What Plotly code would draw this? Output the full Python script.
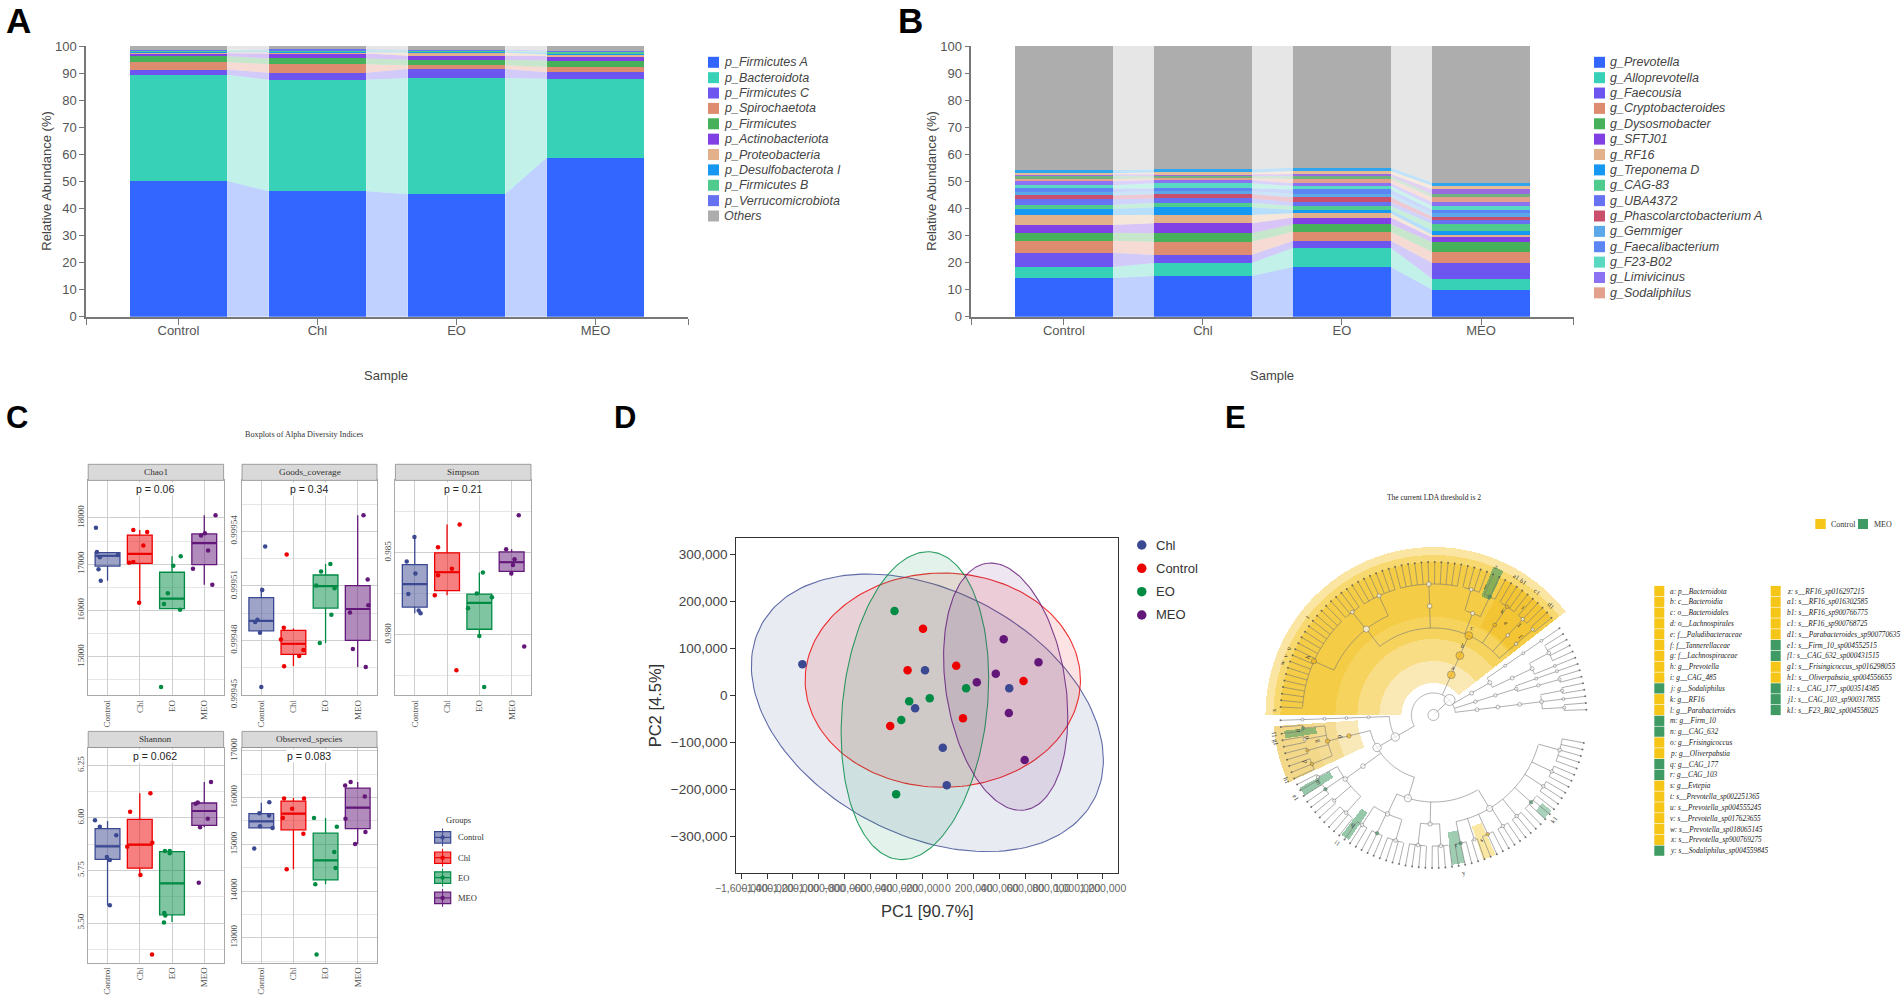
import numpy as np
import plotly.graph_objects as go

W, H = 1902, 1000
SANS, SERIF = "Liberation Sans", "Liberation Serif"

# ---------- Panel A / B data ----------
GROUPS = ["Control", "Chl", "EO", "MEO"]
PHYLA = ["p_Firmicutes A", "p_Bacteroidota", "p_Firmicutes C", "p_Spirochaetota", "p_Firmicutes",
         "p_Actinobacteriota", "p_Proteobacteria", "p_Desulfobacterota I", "p_Firmicutes B",
         "p_Verrucomicrobiota", "Others"]
firmicutes_a = [50.1, 46.3, 45.2, 58.8]
bacteroidota = [39.3, 41.2, 43.0, 29.1]
firmicutes_c = [1.9, 2.6, 3.3, 2.4]
spirochaetota = [2.7, 3.2, 1.4, 1.9]
firmicutes = [2.2, 2.1, 2.0, 2.4]
actinobacteriota = [1.1, 1.8, 1.5, 1.7]
proteobacteria = [0.4, 0.5, 1.2, 0.6]
desulfobacterota = [0.3, 0.4, 0.4, 0.5]
firmicutes_b = [0.4, 0.3, 0.3, 0.5]
verrucomicrobiota = [0.2, 0.4, 0.3, 0.4]
others_a = [1.4, 1.2, 1.4, 1.7]
PHYLA_VALUES = [firmicutes_a, bacteroidota, firmicutes_c, spirochaetota, firmicutes, actinobacteriota,
                proteobacteria, desulfobacterota, firmicutes_b, verrucomicrobiota, others_a]

GENERA = ["g_Prevotella", "g_Alloprevotella", "g_Faecousia", "g_Cryptobacteroides", "g_Dysosmobacter",
          "g_SFTJ01", "g_RF16", "g_Treponema D", "g_CAG-83", "g_UBA4372", "g_Phascolarctobacterium A",
          "g_Gemmiger", "g_Faecalibacterium", "g_F23-B02", "g_Limivicinus", "g_Sodaliphilus"]
prevotella = [14.3, 15.0, 18.4, 10.0]
alloprevotella = [4.1, 4.8, 7.1, 3.9]
faecousia = [5.2, 3.0, 2.6, 5.9]
cryptobacteroides = [4.5, 4.9, 3.3, 4.1]
dysosmobacter = [2.9, 3.1, 2.8, 3.6]
sftj01 = [2.9, 3.7, 2.4, 1.8]
rf16 = [3.7, 3.1, 1.6, 0.9]
treponema_d = [2.2, 2.8, 1.2, 1.6]
cag83 = [1.5, 1.7, 1.5, 2.4]
uba4372 = [2.1, 1.6, 1.4, 1.5]
phascolarctobacterium = [1.4, 1.5, 1.8, 1.2]
gemmiger = [1.3, 1.1, 1.4, 1.3]
faecalibacterium = [1.3, 1.1, 1.5, 1.2]
f23_b02 = [1.2, 1.9, 1.3, 1.5]
limivicinus = [1.4, 1.2, 1.0, 1.4]
sodaliphilus = [0.8, 0.6, 1.6, 1.8]
unlisted_1 = [1.3, 0.9, 1.1, 1.1]
unlisted_2 = [0.5, 0.6, 0.7, 1.8]
unlisted_3 = [0.4, 0.7, 1.1, 1.4]
unlisted_4 = [1.1, 1.1, 1.2, 1.1]
others_b = [45.9, 45.6, 45.0, 50.5]
GENERA_VALUES = [prevotella, alloprevotella, faecousia, cryptobacteroides, dysosmobacter, sftj01, rf16,
                 treponema_d, cag83, uba4372, phascolarctobacterium, gemmiger, faecalibacterium, f23_b02,
                 limivicinus, sodaliphilus, unlisted_1, unlisted_2, unlisted_3, unlisted_4, others_b]

COL_A = ["#3366FF", "#36D1B7", "#6D56F0", "#DE8C70", "#47B05B", "#8040E3", "#E3B08C", "#1597F2",
         "#4FCB8E", "#6672F2", "#ADADAD"]
COL_B = COL_A[:10] + ["#C94F6D", "#5BA8E8", "#5B85F2", "#5AD9C2", "#8B72F2", "#E3A08C",
                      "#6FB27F", "#9A6AE0", "#E6BC96", "#2FA5EE", "#ADADAD"]

# ---------- Panel C data ----------
C_COL = ["#3B4992", "#EE0000", "#008B45", "#631879"]
# each index: [q1, median, q3, low whisker, high whisker] per group, then points and jitter
chao1_box = [[16959, 17182, 17248, 16645, 17248], [17017, 17223, 17628, 16165, 17736],
             [16041, 16256, 16826, 16041, 17174], [16992, 17455, 17653, 16554, 18058]]
chao1_pts = [[17785, 17265, 17149, 17198, 16893, 16645], [17736, 17694, 17405, 17033, 17050, 16165],
             [14347, 16141, 16372, 16017, 16967, 17174], [18058, 17669, 17620, 17298, 16901, 16554]]
chao1_jit = [[-.36, -.33, -.24, .32, -.28, -.21], [-.2, .23, .11, -.33, -.2, -.02],
             [-.34, -.25, -.13, .25, .04, .27], [.35, .02, -.1, .12, -.35, .25]]
goods_box = [[.9994853, .9994908, .9995036, .9994841, .9995091], [.9994723, .9994782, .9994856, .9994660, .9994866],
             [.9994978, .9995099, .9995160, .9994786, .9995221], [.9994801, .9994973, .9995102, .9994654, .9995488]]
goods_pts = [[.9995316, .9995078, .9994914, .9994902, .9994843, .9994544],
             [.9995272, .9994870, .9994805, .9994748, .9994715, .9994658],
             [.9995221, .9995179, .9995102, .9995087, .9994942, .9994786],
             [.9995488, .9995135, .9994994, .9994954, .9994753, .9994654]]
goods_jit = [[.12, .03, -.12, -.19, -.04, 0], [-.21, -.3, -.39, .31, .18, -.29],
             [.15, -.14, -.29, .28, .18, -.18], [.18, .31, .33, -.24, -.15, .25]]
simpson_box = [[.98168, .98308, .98428, .98131, .98596], [.98269, .98381, .985, .98241, .98673],
               [.98033, .98194, .98248, .98002, .98379], [.98386, .98442, .98505, .98362, .98521]]
simpson_pts = [[.98446, .98596, .98374, .98248, .98147, .98131], [.98673, .98533, .98402, .98362, .98241, .97783],
               [.98379, .98252, .98229, .98161, .97991, .9768], [.98729, .98521, .9846, .98425, .98374, .97928]]
simpson_jit = [[-.25, -.01, .02, -.2, .12, .18], [.39, -.28, .15, -.28, -.38, .29],
               [.11, -.08, .39, -.35, 0, .15], [.22, -.17, .09, .04, -.01, .39]]
shannon_box = [[5.803, 5.865, 5.949, 5.585, 5.985], [5.761, 5.873, 5.993, 5.730, 6.117],
               [5.539, 5.689, 5.840, 5.505, 5.843], [5.965, 6.033, 6.071, 5.956, 6.171]]
shannon_pts = [[5.989, 5.958, 5.918, 5.814, 5.800, 5.585], [6.117, 6.029, 5.863, 5.882, 5.729, 5.350],
               [5.843, 5.843, 5.832, 5.548, 5.536, 5.503], [6.171, 6.073, 6.067, 5.996, 5.956, 5.692]]
shannon_jit = [[-.39, -.24, .27, -.02, .07, .07], [.33, -.3, -.39, .39, .02, .38],
               [-.22, -.07, -.07, -.24, -.21, -.25], [.21, -.2, -.27, .11, -.13, -.17]]
observed_box = [[15352, 15492, 15656, 15352, 15893], [15311, 15656, 15926, 14467, 15992],
                [14238, 14656, 15238, 14147, 15566], [15336, 15787, 16205, 15008, 16336]]
observed_pts = [[15902, 15664, 15615, 15385, 15352, 14910], [15984, 15984, 15762, 15566, 15229, 14467],
                [15566, 15377, 14836, 14492, 14147, 12639], [16336, 16262, 16025, 15549, 15262, 15008]]
observed_jit = [[.25, -.06, .24, -.04, .35, -.22], [-.29, .33, -.04, -.33, .31, -.21],
                [-.36, .35, .27, .31, -.32, -.28], [-.22, -.39, .22, -.38, .24, -.08]]

# ---------- Panel D data ----------
D_NAMES = ["Chl", "Control", "EO", "MEO"]
D_COL = ["#3B4992", "#EE0000", "#008B45", "#631879"]
pc1 = [[-1127200, -177650, -254200, -39800, -9190, 474800],
       [-192970, -312430, 64320, 585030, 116400, -447200],
       [-413500, -300200, -140900, 140900, -361400, -401250],
       [431900, 701400, 370600, 223600, 471700, 594200]]
pc2 = [[66660, 53900, -26950, -110640, -190780, 15600],
       [142550, 53900, 63830, 31200, -48230, -64540],
       [180140, -12060, -5670, 15600, -51770, -209900],
       [119850, 70920, 46810, 28370, -36880, -136900]]
# ellipse centre x, centre y, half width, half height, correlation
ELLIPSES = [[-159300, -36500, 1363000, 295400, -.34], [-39800, 32980, 1065900, 228000, 0.0],
            [-255800, -21280, 571250, 327650, .177], [447200, 19150, 480900, 263100, -.24]]

# ---------- Panel E data ----------
GOLD, GREEN = "#F5C518", "#3F9B63"
LEFT_LABELS = ["a: p__Bacteroidota", "b: c__Bacteroidia", "c: o__Bacteroidales", "d: o__Lachnospirales",
               "e: f__Paludibacteraceae", "f: f__Tannerellaceae", "g: f__Lachnospiraceae", "h: g__Prevotella",
               "i: g__CAG_485", "j: g__Sodaliphilus", "k: g__RF16", "l: g__Parabacteroides", "m: g__Firm_10",
               "n: g__CAG_632", "o: g__Frisingicoccus", "p: g__Oliverpabstia", "q: g__CAG_177", "r: g__CAG_103",
               "s: g__Evtepia", "t: s__Prevotella_sp002251365", "u: s__Prevotella_sp004555245",
               "v: s__Prevotella_sp017623655", "w: s__Prevotella_sp018065145", "x: s__Prevotella_sp900769275",
               "y: s__Sodaliphilus_sp004559845"]
LEFT_GROUP = "CCCCCCCCCMCCMMCCMMCCCCCCM"
RIGHT_LABELS = ["z: s__RF16_sp016297215", "a1: s__RF16_sp016302585", "b1: s__RF16_sp900766775",
                "c1: s__RF16_sp900768725", "d1: s__Parabacteroides_sp900770635", "e1: s__Firm_10_sp004552515",
                "f1: s__CAG_632_sp000431515", "g1: s__Frisingicoccus_sp016298055", "h1: s__Oliverpabstia_sp004556655",
                "i1: s__CAG_177_sp003514385", "j1: s__CAG_103_sp900317855", "k1: s__F23_B02_sp004558025"]
RIGHT_GROUP = "CCCCCMMCCMMM"


def Gen(n, col=None):
    return {"genus": n, "col": col}


def N(*kids, a=None, col=None):
    return {"kids": kids, "a": a, "col": col}


def Gap(d):
    return {"gap": d}


TREE = N(
    N(N(N(N(2, 1, 2)))),
    N(N(N(N(2), N(1)))),
    N(N(N(N(1, 4)), 1)),
    Gap(2.5),
    N(N(N(N(2), N(3), N(Gen(4, "Y"), col="Y"), N(Gen(3, "G"), 4), N(11), N(7, 4, Gen(18, "Y"), a=128),
          a=66, col="Y"), col="Y"), col="Y"),
    Gap(2.5),
    N(1,
      N(N(N(Gen(2, "G"), 2, Gen(2, "Y"), Gen(3, "Y"), col="Y"), col="Y"),
        N(N(2, Gen(3, "G"), 2, 4, a=216)),
        N(N(3, Gen(3, "G"), 4), N(4, 4),
          N(Gen(3, "G"), 2, Gen(3, "Y"), 3, 3, Gen(4, "G"), 3, 3, 5, a=301), a=253),
        a=210),
      a=210),
    a=43)
LEVEL_R = [0, 22, 44, 65, 87, 109, 131, 153]
STEP = 2.5
START = 2.0
# angle from, angle to, inner radius, outer radius, colour
WEDGES = [(38, 180, 32, 54, "#FBE9B5"), (38, 180, 54, 76, "#F8DD84"), (38, 180, 76, 98, "#F6D35C"),
          (38, 180, 98, 153, "#F5CC45"), (38, 180, 153, 160, "#F7D970"), (38, 180, 160, 168, "#FAE6A2"),
          (40, 62, 100, 153, "rgba(240,180,20,.35)"),
          (184, 205, 76, 98, "#F9E8B8"), (184, 205, 98, 120, "#F5DC94"), (184, 205, 120, 160, "#F3D88A"),
          (64, 68, 128, 160, "rgba(63,155,99,.6)"), (186, 189, 118, 150, "rgba(63,155,99,.55)"),
          (208.5, 212, 118, 152, "rgba(63,155,99,.55)"), (232.5, 236, 118, 151, "rgba(63,155,99,.55)"),
          (277, 282, 118, 151, "rgba(63,155,99,.5)"), (289, 294, 118, 153, "rgba(245,197,24,.4)"),
          (317, 321, 140, 152, "rgba(63,155,99,.45)")]
# text, radius, angle
CLADE_TEXT = [("a", 52, 67), ("b", 75, 67), ("c", 96, 66), ("h", 139, 155), ("d", 95, 193), ("g", 117, 193),
              ("x", 160, 178), ("w", 160, 161), ("v", 160, 158), ("u", 160, 155), ("t", 160, 142),
              ("z", 161, 67), ("a1", 161, 59), ("b1", 161, 56), ("c1", 161, 50), ("d1", 161, 43),
              ("e1", 160, 211), ("f1", 160, 187), ("g1", 160, 190), ("h1", 160, 204), ("i1", 160, 233),
              ("y", 160, 281), ("k1", 160, 319), ("j", 140, 68), ("k", 125, 56), ("e", 118, 52), ("l", 125, 46),
              ("f", 118, 42), ("n", 135, 187), ("o", 127, 190), ("m", 132, 210), ("q", 135, 234),
              ("r", 132, 280), ("s", 133, 291), ("i", 140, 50), ("p", 135, 200)]


def px(x):
    return x / W


def py(y):
    return 1 - y / H


fig = go.Figure()
ann, shapes = [], []


def text(x, y, t, size, color="#333", family=SANS, xa="center", ya="middle", angle=0, bg=None):
    a = dict(x=px(x), y=py(y), xref="paper", yref="paper", text=t, showarrow=False, xanchor=xa, yanchor=ya,
             textangle=angle, font=dict(size=size, color=color, family=family), borderpad=0)
    if bg:
        a["bgcolor"] = bg
    ann.append(a)


def rect(x0, y0, x1, y1, fill, line=None, lw=0, layer="above"):
    shapes.append(dict(type="rect", xref="paper", yref="paper", x0=px(x0), x1=px(x1), y0=py(y0), y1=py(y1),
                       fillcolor=fill, line=dict(color=line or fill, width=lw), layer=layer))


def rgba(hexc, a):
    return "rgba(%d,%d,%d,%s)" % (int(hexc[1:3], 16), int(hexc[3:5], 16), int(hexc[5:7], 16), a)


layout_axes = {}


def set_axes(i, box, xcfg, ycfg):
    x0, y0, x1, y1 = box
    s = "" if i == 1 else str(i)
    layout_axes["xaxis" + s] = dict(domain=[px(x0), px(x1)], anchor="y" + s, automargin=False, **xcfg)
    layout_axes["yaxis" + s] = dict(domain=[py(y1), py(y0)], anchor="x" + s, automargin=False, **ycfg)
    return "x" + s, "y" + s


# ---------- stacked bars with connecting bands ----------
def stacked(i, box, values, colors, names, legend_x, ytitle_x, sample_x):
    BW = 0.70
    tick = dict(size=13, color="#555", family=SANS)
    xa, ya = set_axes(i, box,
                      dict(range=[-0.665, 3.665], tickvals=[-0.665, 0, 1, 2, 3, 3.665],
                           ticktext=["", *GROUPS, ""], showline=True, linecolor="#777", linewidth=2,
                           ticks="outside", ticklen=6, tickcolor="#777", showgrid=False, zeroline=False,
                           tickfont=tick, tickangle=0, ticklabelstandoff=-5),
                      dict(range=[0, 100], tickvals=list(range(0, 101, 10)), showline=True, linecolor="#777",
                           linewidth=1.5, ticks="outside", ticklen=5, tickcolor="#777", showgrid=False,
                           zeroline=False, tickfont=tick))
    arr = np.array(values, float)
    tops = np.cumsum(arr, axis=0)
    bots = tops - arr
    for s, col in enumerate(colors):
        bx, by = [], []
        for g in range(3):
            bx += [g + BW / 2, g + 1 - BW / 2, g + 1 - BW / 2, g + BW / 2, g + BW / 2, None]
            by += [bots[s, g], bots[s, g + 1], tops[s, g + 1], tops[s, g], bots[s, g], None]
        fig.add_trace(go.Scatter(x=bx, y=by, mode="lines", fill="toself", fillcolor=rgba(col, .31),
                                 line=dict(width=0), hoverinfo="skip", showlegend=False, xaxis=xa, yaxis=ya))
    for s, col in enumerate(colors):
        fig.add_trace(go.Bar(x=[0, 1, 2, 3], y=arr[s], width=BW, marker=dict(color=col, line=dict(width=0)),
                             showlegend=False, xaxis=xa, yaxis=ya))
    for k, nm in enumerate(names):
        yy = 62.3 + k * 15.37
        rect(legend_x, yy - 5.5, legend_x + 11, yy + 5.5, colors[-1] if nm == "Others" else colors[k])
        text(legend_x + 15, yy, "<i>%s</i>" % nm, 12.5, "#444", xa="left")
    text(ytitle_x, 181.7, "Relative Abundance (%)", 13, "#444", angle=-90)
    text(sample_x, 375, "Sample", 13, "#444")


stacked(1, (86, 46, 688, 316.7), PHYLA_VALUES, COL_A, PHYLA, 708, 47, 386)
stacked(2, (971.4, 46, 1573.5, 316.7), GENERA_VALUES, COL_B, GENERA, 1594, 932, 1272)

# ---------- facets ----------
FX = [(88.2, 223.6), (242, 377), (395.4, 531)]
ROW = [(464.3, 480.4, 695.4), (731.4, 747.5, 962.6)]
FACETS = [
    ("Chao1", "p = 0.06", 0, 0, chao1_box, chao1_pts, chao1_jit, (14166, 18810),
     [18000, 17000, 16000, 15000], ["18000", "17000", "16000", "15000"], [17500, 16500, 15500, 14500]),
    ("Goods_coverage", "p = 0.34", 1, 0, goods_box, goods_pts, goods_jit, (.9994498, .999568),
     [.99954, .99951, .99948, .99945], ["0.99954", "0.99951", "0.99948", "0.99945"], [.999555, .999525, .999495, .999465]),
    ("Simpson", "p = 0.21", 2, 0, simpson_box, simpson_pts, simpson_jit, (.97629, .98942),
     [.985, .98], ["0.985", "0.980"], [.9875, .9825, .9775]),
    ("Shannon", "p = 0.062", 0, 1, shannon_box, shannon_pts, shannon_jit, (5.312, 6.335),
     [6.25, 6.0, 5.75, 5.5], ["6.25", "6.00", "5.75", "5.50"], [6.125, 5.875, 5.625, 5.375]),
    ("Observed_species", "p = 0.083", 1, 1, observed_box, observed_pts, observed_jit, (12467, 17074),
     [17000, 16000, 15000, 14000, 13000], ["17000", "16000", "15000", "14000", "13000"],
     [16500, 15500, 14500, 13500, 12500]),
]
sfont = dict(size=9, color="#4d4d4d", family=SERIF)
for n, (name, ptxt, cx, cy, bx, pts, jit, yr, tv, tt, mv) in enumerate(FACETS):
    x0, x1 = FX[cx]
    s0, s1, y1 = ROW[cy]
    xa, ya = set_axes(3 + n, (x0, s1, x1, y1),
                      dict(range=[0.4, 4.6], tickvals=[1, 2, 3, 4], ticktext=GROUPS, tickangle=-90, tickfont=sfont,
                           showline=True, mirror=True, linecolor="#a9a9a9", linewidth=1, showgrid=True,
                           gridcolor="#cfcfcf", gridwidth=1, zeroline=False, ticks=""),
                      dict(range=list(yr), tickvals=tv, ticktext=tt, tickangle=-90, tickfont=sfont,
                           showline=True, mirror=True, linecolor="#a9a9a9", linewidth=1, showgrid=True,
                           gridcolor="#cfcfcf", gridwidth=1, zeroline=False, ticks="",
                           minor=dict(tickvals=mv, showgrid=True, gridcolor="#e6e6e6", gridwidth=.7, ticks="")))
    for g in range(4):
        q1, med, q3, lo, hi = bx[g]
        col = C_COL[g]
        fig.add_trace(go.Box(x=[g + 1], q1=[q1], median=[med], q3=[q3], lowerfence=[lo], upperfence=[hi], width=.77,
                             whiskerwidth=0, fillcolor=rgba(col, .5), line=dict(color=col, width=1.3),
                             boxpoints=False, showlegend=False, xaxis=xa, yaxis=ya))
        fig.add_trace(go.Scatter(x=[g + 1 - .385, g + 1 + .385], y=[med, med], mode="lines",
                                 line=dict(color=col, width=2.2), showlegend=False, xaxis=xa, yaxis=ya))
        fig.add_trace(go.Scatter(x=[g + 1 + j for j in jit[g]], y=pts[g], mode="markers",
                                 marker=dict(color=col, size=4.5), showlegend=False, xaxis=xa, yaxis=ya))
    rect(x0, s0, x1, s1, "#D9D9D9", "#8c8c8c", .8)
    text((x0 + x1) / 2, (s0 + s1) / 2, name, 9.2, "#333", SERIF)
    text((x0 + x1) / 2 - 0.5, s1 + 8.8, ptxt, 10.5, "#222", bg="white")
text(303.6, 434.8, "Boxplots of Alpha Diversity Indices", 8.2, "#333", SERIF)
text(444.6, 820, "Groups", 8.5, "#333", SERIF, xa="left")
for g, yy in enumerate([837.4, 857.7, 877.6, 897.9]):
    col = C_COL[g]
    shapes.append(dict(type="line", xref="paper", yref="paper", x0=px(442.6), x1=px(442.6), y0=py(yy - 9), y1=py(yy + 9),
                       line=dict(color=col, width=1)))
    rect(434.6, yy - 5.7, 450.7, yy + 5.7, rgba(col, .55), col, 1.2)
    shapes.append(dict(type="line", xref="paper", yref="paper", x0=px(434.6), x1=px(450.7), y0=py(yy), y1=py(yy),
                       line=dict(color=col, width=1.2)))
    shapes.append(dict(type="circle", xref="paper", yref="paper", x0=px(440.4), x1=px(444.8), y0=py(yy - 2.2), y1=py(yy + 2.2),
                       fillcolor=col, line=dict(width=0)))
    text(457, yy, GROUPS[g], 8.5, "#333", SERIF, xa="left")

# ---------- PCA ----------
xa, ya = set_axes(8, (736.4, 537.7, 1118.4, 873.3),
                  dict(range=[-1638000, 1320000], tickvals=list(range(-1600000, 1200001, 200000)), tickformat=",",
                       tickangle=0, showline=True, mirror=True, linecolor="#333", linewidth=1.3, ticks="outside",
                       ticklen=5, tickcolor="#333", showgrid=False, zeroline=False,
                       tickfont=dict(size=10.5, color="#666", family=SANS)),
                  dict(range=[-378000, 336170], tickvals=list(range(-300000, 300001, 100000)), tickformat=",",
                       showline=True, mirror=True, linecolor="#333", linewidth=1.3, ticks="outside", ticklen=5,
                       tickcolor="#333", showgrid=False, zeroline=False,
                       tickfont=dict(size=13.5, color="#444", family=SANS)))
t = np.linspace(0, 2 * np.pi, 181)
for k, (cx, cy, ex, ey, rho) in enumerate(ELLIPSES):
    fig.add_trace(go.Scatter(x=cx + ex * np.cos(t), y=cy + ey * (rho * np.cos(t) + np.sqrt(1 - rho ** 2) * np.sin(t)),
                             mode="lines", fill="toself", fillcolor=rgba(D_COL[k], .11),
                             line=dict(color=rgba(D_COL[k], .8), width=1.1), showlegend=False, xaxis=xa, yaxis=ya))
for k in range(4):
    fig.add_trace(go.Scatter(x=pc1[k], y=pc2[k], mode="markers", marker=dict(color=D_COL[k], size=8.5),
                             showlegend=False, xaxis=xa, yaxis=ya))
    yy = 545 + k * 23.33
    shapes.append(dict(type="circle", xref="paper", yref="paper", x0=px(1137), x1=px(1146.5), y0=py(yy - 4.75), y1=py(yy + 4.75),
                       fillcolor=D_COL[k], line=dict(width=0)))
    text(1155, yy, D_NAMES[k], 13, "#333", xa="left")
text(927.4, 911, "PC1 [90.7%]", 16.5, "#333")
text(654.6, 705.7, "PC2 [4.5%]", 16.5, "#333", angle=-90)

# ---------- cladogram ----------
CX, CY, RMAX = 1433.4, 715, 170
lines_r, lines_t, nodes = [], [], []
cursor = [START]


def seg(r, th):
    lines_r.extend(r + [None])
    lines_t.extend(th + [None])


def build(node, depth):
    """Lay the node out and return (angle, leaf count)."""
    if isinstance(node, int):
        node = Gen(node)
    if "genus" in node and depth < 6:
        a, n = build(node, depth + 1)
        seg([LEVEL_R[depth], LEVEL_R[depth + 1]], [a, a])
        nodes.append((LEVEL_R[depth], a, n, None))
        return a, n
    if "genus" in node:
        angs = []
        for _ in range(node["genus"]):
            a = cursor[0]
            cursor[0] += STEP
            angs.append(a)
            seg([LEVEL_R[6], LEVEL_R[7]], [a, a])
            nodes.append((LEVEL_R[7], a, 0, node["col"]))
        if len(angs) > 1:
            aa = list(np.arange(angs[0], angs[-1] + .01, 1.0))
            seg([LEVEL_R[6]] * len(aa), aa)
        a = (angs[0] + angs[-1]) / 2
        nodes.append((LEVEL_R[6], a, len(angs), node["col"]))
        return a, len(angs)
    kid_a, total = [], 0
    for k in node["kids"]:
        if isinstance(k, dict) and "gap" in k:
            cursor[0] += k["gap"]
            continue
        a, n = build(k, depth + 1)
        kid_a.append(a)
        total += n
    a = node["a"] if node["a"] is not None else (kid_a[0] + kid_a[-1]) / 2
    lo, hi = min(kid_a + [a]), max(kid_a + [a])
    for ka in kid_a:
        seg([LEVEL_R[depth], LEVEL_R[depth + 1]], [ka, ka])
    if hi > lo:
        aa = list(np.arange(lo, hi + .01, 1.0))
        seg([LEVEL_R[depth]] * len(aa), aa)
    nodes.append((LEVEL_R[depth], a, total, node["col"]))
    return a, total


ka, total = build(TREE, 1)
seg([0, LEVEL_R[1]], [ka, ka])
nodes.append((0, 200, total, None))

for th0, th1, r0, r1, col in WEDGES:
    fig.add_trace(go.Barpolar(r=[r1 - r0], base=[r0], theta=[(th0 + th1) / 2], width=[th1 - th0],
                              marker=dict(color=col, line=dict(width=0)), showlegend=False, subplot="polar"))
fig.add_trace(go.Scatterpolar(r=lines_r, theta=lines_t, mode="lines", line=dict(color="#777", width=.6),
                              connectgaps=False, showlegend=False, subplot="polar"))
NCOL = {None: "white", "Y": "#F5B81A", "G": "#3F9B63"}
fig.add_trace(go.Scatterpolar(
    r=[n[0] for n in nodes], theta=[n[1] for n in nodes], mode="markers", showlegend=False, subplot="polar",
    marker=dict(size=[2.0 if n[2] == 0 else 2.2 + .75 * np.sqrt(n[2]) for n in nodes],
                color=["#444" if n[2] == 0 else NCOL[n[3]] for n in nodes],
                line=dict(color="#555", width=[0 if n[2] == 0 else .6 for n in nodes]))))
for s, r, a in CLADE_TEXT:
    rad = np.deg2rad(a)
    text(CX + r * np.cos(rad), CY - r * np.sin(rad), s, 6.5, "#333", SERIF, angle=(90 - a) if a < 180 else (270 - a))

text(1433.8, 497.3, "The current LDA threshold is 2", 7.5, "#222", SERIF)
rect(1815.3, 519, 1825.7, 529, GOLD)
text(1830, 524, "Control", 8, "#333", SERIF, xa="left")
rect(1858, 519, 1868, 529, GREEN)
text(1872.7, 524, "MEO", 8, "#333", SERIF, xa="left")
for labels, grp, sx, tx in [(LEFT_LABELS, LEFT_GROUP, 1654.3, 1669.3), (RIGHT_LABELS, RIGHT_GROUP, 1770.7, 1785.7)]:
    for k, lab in enumerate(labels):
        yy = 591 + k * 10.82
        rect(sx, yy - 5.1, sx + 10, yy + 5.1, GOLD if grp[k] == "C" else GREEN)
        text(tx, yy, "<i>%s</i>" % lab, 7.3, "#222", SERIF, xa="left")

# ---------- panel letters ----------
for s, x, y, size in [("A", 18, 20, 35), ("B", 910, 20, 35), ("C", 17, 418, 31), ("D", 625, 418, 31), ("E", 1235, 418, 31)]:
    text(x, y, "<b>%s</b>" % s, size, "black")

fig.update_layout(
    width=W, height=H, margin=dict(l=0, r=0, t=0, b=0), paper_bgcolor="white", plot_bgcolor="white",
    barmode="stack", boxmode="overlay", showlegend=False, annotations=ann, shapes=shapes,
    polar=dict(domain=dict(x=[px(CX - RMAX), px(CX + RMAX)], y=[py(CY + RMAX), py(CY - RMAX)]),
               radialaxis=dict(visible=False, range=[0, RMAX]),
               angularaxis=dict(visible=False, direction="counterclockwise", rotation=0),
               bgcolor="rgba(0,0,0,0)", barmode="overlay", bargap=0),
    **layout_axes)
fig.write_html("out.html", config=dict(displayModeBar=False),
               post_script="document.body.style.margin='0';document.body.style.overflow='hidden';")
